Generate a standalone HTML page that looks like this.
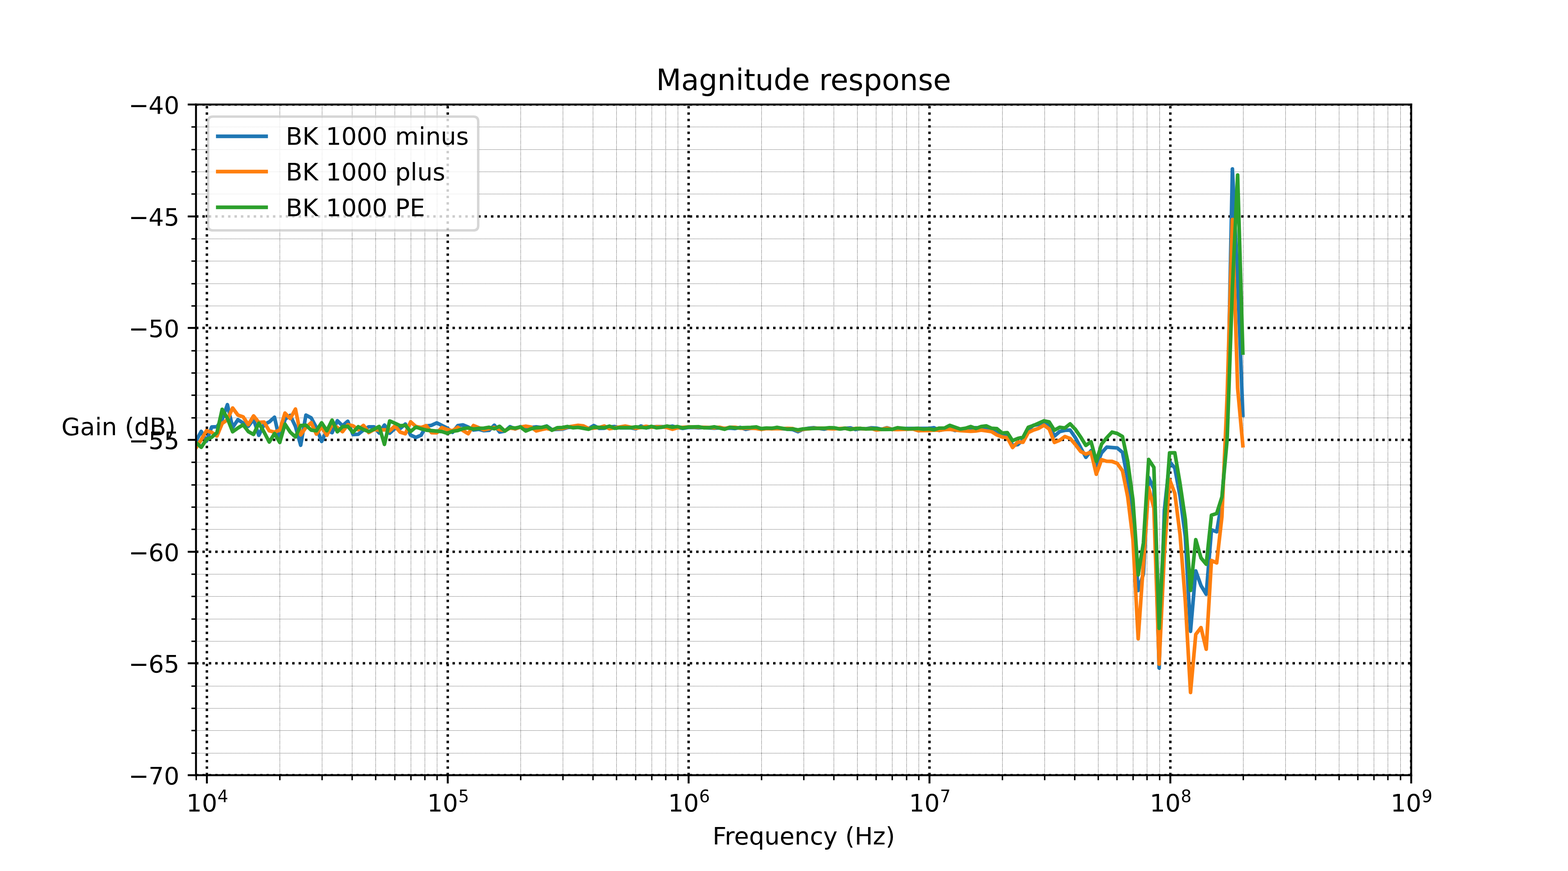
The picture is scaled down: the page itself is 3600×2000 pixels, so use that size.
<!DOCTYPE html>
<html lang="en">
<head>
<meta charset="utf-8">
<title>Magnitude response</title>
<style>
html, body { margin: 0; padding: 0; background: #ffffff; }
body { width: 3600px; height: 2000px; overflow: hidden; font-family: "DejaVu Sans", "Liberation Sans", sans-serif; }
svg { display: block; }
</style>
</head>
<body>
<svg width="3600" height="2000" viewBox="0 0 648 360">
<defs>
<style type="text/css">*{stroke-linejoin: round; stroke-linecap: butt}</style>
</defs>
<g id="figure_1">
<g id="patch_1">
<path d="M 0 360 L 648 360 L 648 0 L 0 0 z" style="fill: #ffffff" />
</g>
<g id="axes_1">
<g id="patch_2">
<path d="M 81 320.4 L 583.2 320.4 L 583.2 43.2 L 81 43.2 z" style="fill: #ffffff" />
</g>
<g id="matplotlib.axis_1">
<g id="xtick_1">
<g id="line2d_1">
<path d="M 85.5 320.4 L 85.5 43.2" clip-path="url(#p08fd92dc2a)" style="fill: none; stroke-dasharray: 1,1.65; stroke-dashoffset: 0; stroke: #000000" />
</g>
<g id="line2d_2">
<defs>
<path id="mc6e70fa9c4" d="M 0 0 L 0 3.42" style="stroke: #000000; stroke-width: 0.8" />
</defs>
<g>
<use x="85.5" y="320.4" style="stroke: #000000; stroke-width: 0.8" href="#mc6e70fa9c4" />
</g>
</g>
<g id="text_1">
<g transform="translate(77.0512 334.9984)">
<text>
<tspan x="0" y="0.3056" style="font-size: 10px; font-family: 'DejaVu Sans', sans-serif">1</tspan>
<tspan x="6.362305" y="0.3056" style="font-size: 10px; font-family: 'DejaVu Sans', sans-serif">0</tspan>
<tspan x="12.820312" y="-3.4024" style="font-size: 7px; font-family: 'DejaVu Sans', sans-serif">4</tspan>
</text>
</g>
</g>
</g>
<g id="xtick_2">
<g id="line2d_3">
<path d="M 185.04 320.4 L 185.04 43.2" clip-path="url(#p08fd92dc2a)" style="fill: none; stroke-dasharray: 1,1.65; stroke-dashoffset: 0; stroke: #000000" />
</g>
<g id="line2d_4">
<g>
<use x="185.04" y="320.4" style="stroke: #000000; stroke-width: 0.8" href="#mc6e70fa9c4" />
</g>
</g>
<g id="text_2">
<g transform="translate(176.5804 334.9984)">
<text>
<tspan x="0" y="0.3056" style="font-size: 10px; font-family: 'DejaVu Sans', sans-serif">1</tspan>
<tspan x="6.362305" y="0.3056" style="font-size: 10px; font-family: 'DejaVu Sans', sans-serif">0</tspan>
<tspan x="12.820312" y="-3.4024" style="font-size: 7px; font-family: 'DejaVu Sans', sans-serif">5</tspan>
</text>
</g>
</g>
</g>
<g id="xtick_3">
<g id="line2d_5">
<path d="M 284.58 320.4 L 284.58 43.2" clip-path="url(#p08fd92dc2a)" style="fill: none; stroke-dasharray: 1,1.65; stroke-dashoffset: 0; stroke: #000000" />
</g>
<g id="line2d_6">
<g>
<use x="284.58" y="320.4" style="stroke: #000000; stroke-width: 0.8" href="#mc6e70fa9c4" />
</g>
</g>
<g id="text_3">
<g transform="translate(276.1095 334.9984)">
<text>
<tspan x="0" y="0.3056" style="font-size: 10px; font-family: 'DejaVu Sans', sans-serif">1</tspan>
<tspan x="6.362305" y="0.3056" style="font-size: 10px; font-family: 'DejaVu Sans', sans-serif">0</tspan>
<tspan x="12.820312" y="-3.4024" style="font-size: 7px; font-family: 'DejaVu Sans', sans-serif">6</tspan>
</text>
</g>
</g>
</g>
<g id="xtick_4">
<g id="line2d_7">
<path d="M 384.12 320.4 L 384.12 43.2" clip-path="url(#p08fd92dc2a)" style="fill: none; stroke-dasharray: 1,1.65; stroke-dashoffset: 0; stroke: #000000" />
</g>
<g id="line2d_8">
<g>
<use x="384.12" y="320.4" style="stroke: #000000; stroke-width: 0.8" href="#mc6e70fa9c4" />
</g>
</g>
<g id="text_4">
<g transform="translate(375.6387 334.9984)">
<text>
<tspan x="0" y="0.3056" style="font-size: 10px; font-family: 'DejaVu Sans', sans-serif">1</tspan>
<tspan x="6.362305" y="0.3056" style="font-size: 10px; font-family: 'DejaVu Sans', sans-serif">0</tspan>
<tspan x="12.820312" y="-3.4024" style="font-size: 7px; font-family: 'DejaVu Sans', sans-serif">7</tspan>
</text>
</g>
</g>
</g>
<g id="xtick_5">
<g id="line2d_9">
<path d="M 483.66 320.4 L 483.66 43.2" clip-path="url(#p08fd92dc2a)" style="fill: none; stroke-dasharray: 1,1.65; stroke-dashoffset: 0; stroke: #000000" />
</g>
<g id="line2d_10">
<g>
<use x="483.66" y="320.4" style="stroke: #000000; stroke-width: 0.8" href="#mc6e70fa9c4" />
</g>
</g>
<g id="text_5">
<g transform="translate(475.1678 334.9984)">
<text>
<tspan x="0" y="0.3056" style="font-size: 10px; font-family: 'DejaVu Sans', sans-serif">1</tspan>
<tspan x="6.362305" y="0.3056" style="font-size: 10px; font-family: 'DejaVu Sans', sans-serif">0</tspan>
<tspan x="12.820312" y="-3.4024" style="font-size: 7px; font-family: 'DejaVu Sans', sans-serif">8</tspan>
</text>
</g>
</g>
</g>
<g id="xtick_6">
<g id="line2d_11">
<path d="M 583.2 320.4 L 583.2 43.2" clip-path="url(#p08fd92dc2a)" style="fill: none; stroke-dasharray: 1,1.65; stroke-dashoffset: 0; stroke: #000000" />
</g>
<g id="line2d_12">
<g>
<use x="583.2" y="320.4" style="stroke: #000000; stroke-width: 0.8" href="#mc6e70fa9c4" />
</g>
</g>
<g id="text_6">
<g transform="translate(574.697 334.9984)">
<text>
<tspan x="0" y="0.3056" style="font-size: 10px; font-family: 'DejaVu Sans', sans-serif">1</tspan>
<tspan x="6.362305" y="0.3056" style="font-size: 10px; font-family: 'DejaVu Sans', sans-serif">0</tspan>
<tspan x="12.820312" y="-3.4024" style="font-size: 7px; font-family: 'DejaVu Sans', sans-serif">9</tspan>
</text>
</g>
</g>
</g>
<g id="xtick_7">
<g id="line2d_13">
<path d="M 81.09 320.49 L 81.09 43.29" clip-path="url(#p08fd92dc2a)" style="fill: none; stroke-dasharray: 0.2,0.33; stroke-dashoffset: 0; stroke: #000000; stroke-width: 0.2" />
</g>
<g id="line2d_14">
<defs>
<path id="m18529bd13d" d="M 0.09 0.09 L 0.09 2.07" style="stroke: #000000; stroke-width: 0.6" />
</defs>
<g>
<use x="81" y="320.4" style="stroke: #000000; stroke-width: 0.6" href="#m18529bd13d" />
</g>
</g>
</g>
<g id="xtick_8">
<g id="line2d_15">
<path d="M 115.65 320.49 L 115.65 43.29" clip-path="url(#p08fd92dc2a)" style="fill: none; stroke-dasharray: 0.2,0.33; stroke-dashoffset: 0; stroke: #000000; stroke-width: 0.2" />
</g>
<g id="line2d_16">
<g>
<use x="115.56" y="320.4" style="stroke: #000000; stroke-width: 0.6" href="#m18529bd13d" />
</g>
</g>
</g>
<g id="xtick_9">
<g id="line2d_17">
<path d="M 133.11 320.49 L 133.11 43.29" clip-path="url(#p08fd92dc2a)" style="fill: none; stroke-dasharray: 0.2,0.33; stroke-dashoffset: 0; stroke: #000000; stroke-width: 0.2" />
</g>
<g id="line2d_18">
<g>
<use x="133.02" y="320.4" style="stroke: #000000; stroke-width: 0.6" href="#m18529bd13d" />
</g>
</g>
</g>
<g id="xtick_10">
<g id="line2d_19">
<path d="M 145.53 320.49 L 145.53 43.29" clip-path="url(#p08fd92dc2a)" style="fill: none; stroke-dasharray: 0.2,0.33; stroke-dashoffset: 0; stroke: #000000; stroke-width: 0.2" />
</g>
<g id="line2d_20">
<g>
<use x="145.44" y="320.4" style="stroke: #000000; stroke-width: 0.6" href="#m18529bd13d" />
</g>
</g>
</g>
<g id="xtick_11">
<g id="line2d_21">
<path d="M 155.25 320.49 L 155.25 43.29" clip-path="url(#p08fd92dc2a)" style="fill: none; stroke-dasharray: 0.2,0.33; stroke-dashoffset: 0; stroke: #000000; stroke-width: 0.2" />
</g>
<g id="line2d_22">
<g>
<use x="155.16" y="320.4" style="stroke: #000000; stroke-width: 0.6" href="#m18529bd13d" />
</g>
</g>
</g>
<g id="xtick_12">
<g id="line2d_23">
<path d="M 163.17 320.49 L 163.17 43.29" clip-path="url(#p08fd92dc2a)" style="fill: none; stroke-dasharray: 0.2,0.33; stroke-dashoffset: 0; stroke: #000000; stroke-width: 0.2" />
</g>
<g id="line2d_24">
<g>
<use x="163.08" y="320.4" style="stroke: #000000; stroke-width: 0.6" href="#m18529bd13d" />
</g>
</g>
</g>
<g id="xtick_13">
<g id="line2d_25">
<path d="M 169.83 320.49 L 169.83 43.29" clip-path="url(#p08fd92dc2a)" style="fill: none; stroke-dasharray: 0.2,0.33; stroke-dashoffset: 0; stroke: #000000; stroke-width: 0.2" />
</g>
<g id="line2d_26">
<g>
<use x="169.74" y="320.4" style="stroke: #000000; stroke-width: 0.6" href="#m18529bd13d" />
</g>
</g>
</g>
<g id="xtick_14">
<g id="line2d_27">
<path d="M 175.59 320.49 L 175.59 43.29" clip-path="url(#p08fd92dc2a)" style="fill: none; stroke-dasharray: 0.2,0.33; stroke-dashoffset: 0; stroke: #000000; stroke-width: 0.2" />
</g>
<g id="line2d_28">
<g>
<use x="175.5" y="320.4" style="stroke: #000000; stroke-width: 0.6" href="#m18529bd13d" />
</g>
</g>
</g>
<g id="xtick_15">
<g id="line2d_29">
<path d="M 180.63 320.49 L 180.63 43.29" clip-path="url(#p08fd92dc2a)" style="fill: none; stroke-dasharray: 0.2,0.33; stroke-dashoffset: 0; stroke: #000000; stroke-width: 0.2" />
</g>
<g id="line2d_30">
<g>
<use x="180.54" y="320.4" style="stroke: #000000; stroke-width: 0.6" href="#m18529bd13d" />
</g>
</g>
</g>
<g id="xtick_16">
<g id="line2d_31">
<path d="M 215.19 320.49 L 215.19 43.29" clip-path="url(#p08fd92dc2a)" style="fill: none; stroke-dasharray: 0.2,0.33; stroke-dashoffset: 0; stroke: #000000; stroke-width: 0.2" />
</g>
<g id="line2d_32">
<g>
<use x="215.1" y="320.4" style="stroke: #000000; stroke-width: 0.6" href="#m18529bd13d" />
</g>
</g>
</g>
<g id="xtick_17">
<g id="line2d_33">
<path d="M 232.65 320.49 L 232.65 43.29" clip-path="url(#p08fd92dc2a)" style="fill: none; stroke-dasharray: 0.2,0.33; stroke-dashoffset: 0; stroke: #000000; stroke-width: 0.2" />
</g>
<g id="line2d_34">
<g>
<use x="232.56" y="320.4" style="stroke: #000000; stroke-width: 0.6" href="#m18529bd13d" />
</g>
</g>
</g>
<g id="xtick_18">
<g id="line2d_35">
<path d="M 245.07 320.49 L 245.07 43.29" clip-path="url(#p08fd92dc2a)" style="fill: none; stroke-dasharray: 0.2,0.33; stroke-dashoffset: 0; stroke: #000000; stroke-width: 0.2" />
</g>
<g id="line2d_36">
<g>
<use x="244.98" y="320.4" style="stroke: #000000; stroke-width: 0.6" href="#m18529bd13d" />
</g>
</g>
</g>
<g id="xtick_19">
<g id="line2d_37">
<path d="M 254.79 320.49 L 254.79 43.29" clip-path="url(#p08fd92dc2a)" style="fill: none; stroke-dasharray: 0.2,0.33; stroke-dashoffset: 0; stroke: #000000; stroke-width: 0.2" />
</g>
<g id="line2d_38">
<g>
<use x="254.7" y="320.4" style="stroke: #000000; stroke-width: 0.6" href="#m18529bd13d" />
</g>
</g>
</g>
<g id="xtick_20">
<g id="line2d_39">
<path d="M 262.71 320.49 L 262.71 43.29" clip-path="url(#p08fd92dc2a)" style="fill: none; stroke-dasharray: 0.2,0.33; stroke-dashoffset: 0; stroke: #000000; stroke-width: 0.2" />
</g>
<g id="line2d_40">
<g>
<use x="262.62" y="320.4" style="stroke: #000000; stroke-width: 0.6" href="#m18529bd13d" />
</g>
</g>
</g>
<g id="xtick_21">
<g id="line2d_41">
<path d="M 269.37 320.49 L 269.37 43.29" clip-path="url(#p08fd92dc2a)" style="fill: none; stroke-dasharray: 0.2,0.33; stroke-dashoffset: 0; stroke: #000000; stroke-width: 0.2" />
</g>
<g id="line2d_42">
<g>
<use x="269.28" y="320.4" style="stroke: #000000; stroke-width: 0.6" href="#m18529bd13d" />
</g>
</g>
</g>
<g id="xtick_22">
<g id="line2d_43">
<path d="M 275.13 320.49 L 275.13 43.29" clip-path="url(#p08fd92dc2a)" style="fill: none; stroke-dasharray: 0.2,0.33; stroke-dashoffset: 0; stroke: #000000; stroke-width: 0.2" />
</g>
<g id="line2d_44">
<g>
<use x="275.04" y="320.4" style="stroke: #000000; stroke-width: 0.6" href="#m18529bd13d" />
</g>
</g>
</g>
<g id="xtick_23">
<g id="line2d_45">
<path d="M 280.17 320.49 L 280.17 43.29" clip-path="url(#p08fd92dc2a)" style="fill: none; stroke-dasharray: 0.2,0.33; stroke-dashoffset: 0; stroke: #000000; stroke-width: 0.2" />
</g>
<g id="line2d_46">
<g>
<use x="280.08" y="320.4" style="stroke: #000000; stroke-width: 0.6" href="#m18529bd13d" />
</g>
</g>
</g>
<g id="xtick_24">
<g id="line2d_47">
<path d="M 314.73 320.49 L 314.73 43.29" clip-path="url(#p08fd92dc2a)" style="fill: none; stroke-dasharray: 0.2,0.33; stroke-dashoffset: 0; stroke: #000000; stroke-width: 0.2" />
</g>
<g id="line2d_48">
<g>
<use x="314.64" y="320.4" style="stroke: #000000; stroke-width: 0.6" href="#m18529bd13d" />
</g>
</g>
</g>
<g id="xtick_25">
<g id="line2d_49">
<path d="M 332.19 320.49 L 332.19 43.29" clip-path="url(#p08fd92dc2a)" style="fill: none; stroke-dasharray: 0.2,0.33; stroke-dashoffset: 0; stroke: #000000; stroke-width: 0.2" />
</g>
<g id="line2d_50">
<g>
<use x="332.1" y="320.4" style="stroke: #000000; stroke-width: 0.6" href="#m18529bd13d" />
</g>
</g>
</g>
<g id="xtick_26">
<g id="line2d_51">
<path d="M 344.61 320.49 L 344.61 43.29" clip-path="url(#p08fd92dc2a)" style="fill: none; stroke-dasharray: 0.2,0.33; stroke-dashoffset: 0; stroke: #000000; stroke-width: 0.2" />
</g>
<g id="line2d_52">
<g>
<use x="344.52" y="320.4" style="stroke: #000000; stroke-width: 0.6" href="#m18529bd13d" />
</g>
</g>
</g>
<g id="xtick_27">
<g id="line2d_53">
<path d="M 354.33 320.49 L 354.33 43.29" clip-path="url(#p08fd92dc2a)" style="fill: none; stroke-dasharray: 0.2,0.33; stroke-dashoffset: 0; stroke: #000000; stroke-width: 0.2" />
</g>
<g id="line2d_54">
<g>
<use x="354.24" y="320.4" style="stroke: #000000; stroke-width: 0.6" href="#m18529bd13d" />
</g>
</g>
</g>
<g id="xtick_28">
<g id="line2d_55">
<path d="M 362.07 320.49 L 362.07 43.29" clip-path="url(#p08fd92dc2a)" style="fill: none; stroke-dasharray: 0.2,0.33; stroke-dashoffset: 0; stroke: #000000; stroke-width: 0.2" />
</g>
<g id="line2d_56">
<g>
<use x="361.98" y="320.4" style="stroke: #000000; stroke-width: 0.6" href="#m18529bd13d" />
</g>
</g>
</g>
<g id="xtick_29">
<g id="line2d_57">
<path d="M 368.73 320.49 L 368.73 43.29" clip-path="url(#p08fd92dc2a)" style="fill: none; stroke-dasharray: 0.2,0.33; stroke-dashoffset: 0; stroke: #000000; stroke-width: 0.2" />
</g>
<g id="line2d_58">
<g>
<use x="368.64" y="320.4" style="stroke: #000000; stroke-width: 0.6" href="#m18529bd13d" />
</g>
</g>
</g>
<g id="xtick_30">
<g id="line2d_59">
<path d="M 374.67 320.49 L 374.67 43.29" clip-path="url(#p08fd92dc2a)" style="fill: none; stroke-dasharray: 0.2,0.33; stroke-dashoffset: 0; stroke: #000000; stroke-width: 0.2" />
</g>
<g id="line2d_60">
<g>
<use x="374.58" y="320.4" style="stroke: #000000; stroke-width: 0.6" href="#m18529bd13d" />
</g>
</g>
</g>
<g id="xtick_31">
<g id="line2d_61">
<path d="M 379.71 320.49 L 379.71 43.29" clip-path="url(#p08fd92dc2a)" style="fill: none; stroke-dasharray: 0.2,0.33; stroke-dashoffset: 0; stroke: #000000; stroke-width: 0.2" />
</g>
<g id="line2d_62">
<g>
<use x="379.62" y="320.4" style="stroke: #000000; stroke-width: 0.6" href="#m18529bd13d" />
</g>
</g>
</g>
<g id="xtick_32">
<g id="line2d_63">
<path d="M 414.27 320.49 L 414.27 43.29" clip-path="url(#p08fd92dc2a)" style="fill: none; stroke-dasharray: 0.2,0.33; stroke-dashoffset: 0; stroke: #000000; stroke-width: 0.2" />
</g>
<g id="line2d_64">
<g>
<use x="414.18" y="320.4" style="stroke: #000000; stroke-width: 0.6" href="#m18529bd13d" />
</g>
</g>
</g>
<g id="xtick_33">
<g id="line2d_65">
<path d="M 431.73 320.49 L 431.73 43.29" clip-path="url(#p08fd92dc2a)" style="fill: none; stroke-dasharray: 0.2,0.33; stroke-dashoffset: 0; stroke: #000000; stroke-width: 0.2" />
</g>
<g id="line2d_66">
<g>
<use x="431.64" y="320.4" style="stroke: #000000; stroke-width: 0.6" href="#m18529bd13d" />
</g>
</g>
</g>
<g id="xtick_34">
<g id="line2d_67">
<path d="M 444.15 320.49 L 444.15 43.29" clip-path="url(#p08fd92dc2a)" style="fill: none; stroke-dasharray: 0.2,0.33; stroke-dashoffset: 0; stroke: #000000; stroke-width: 0.2" />
</g>
<g id="line2d_68">
<g>
<use x="444.06" y="320.4" style="stroke: #000000; stroke-width: 0.6" href="#m18529bd13d" />
</g>
</g>
</g>
<g id="xtick_35">
<g id="line2d_69">
<path d="M 453.87 320.49 L 453.87 43.29" clip-path="url(#p08fd92dc2a)" style="fill: none; stroke-dasharray: 0.2,0.33; stroke-dashoffset: 0; stroke: #000000; stroke-width: 0.2" />
</g>
<g id="line2d_70">
<g>
<use x="453.78" y="320.4" style="stroke: #000000; stroke-width: 0.6" href="#m18529bd13d" />
</g>
</g>
</g>
<g id="xtick_36">
<g id="line2d_71">
<path d="M 461.61 320.49 L 461.61 43.29" clip-path="url(#p08fd92dc2a)" style="fill: none; stroke-dasharray: 0.2,0.33; stroke-dashoffset: 0; stroke: #000000; stroke-width: 0.2" />
</g>
<g id="line2d_72">
<g>
<use x="461.52" y="320.4" style="stroke: #000000; stroke-width: 0.6" href="#m18529bd13d" />
</g>
</g>
</g>
<g id="xtick_37">
<g id="line2d_73">
<path d="M 468.27 320.49 L 468.27 43.29" clip-path="url(#p08fd92dc2a)" style="fill: none; stroke-dasharray: 0.2,0.33; stroke-dashoffset: 0; stroke: #000000; stroke-width: 0.2" />
</g>
<g id="line2d_74">
<g>
<use x="468.18" y="320.4" style="stroke: #000000; stroke-width: 0.6" href="#m18529bd13d" />
</g>
</g>
</g>
<g id="xtick_38">
<g id="line2d_75">
<path d="M 474.03 320.49 L 474.03 43.29" clip-path="url(#p08fd92dc2a)" style="fill: none; stroke-dasharray: 0.2,0.33; stroke-dashoffset: 0; stroke: #000000; stroke-width: 0.2" />
</g>
<g id="line2d_76">
<g>
<use x="473.94" y="320.4" style="stroke: #000000; stroke-width: 0.6" href="#m18529bd13d" />
</g>
</g>
</g>
<g id="xtick_39">
<g id="line2d_77">
<path d="M 479.25 320.49 L 479.25 43.29" clip-path="url(#p08fd92dc2a)" style="fill: none; stroke-dasharray: 0.2,0.33; stroke-dashoffset: 0; stroke: #000000; stroke-width: 0.2" />
</g>
<g id="line2d_78">
<g>
<use x="479.16" y="320.4" style="stroke: #000000; stroke-width: 0.6" href="#m18529bd13d" />
</g>
</g>
</g>
<g id="xtick_40">
<g id="line2d_79">
<path d="M 513.81 320.49 L 513.81 43.29" clip-path="url(#p08fd92dc2a)" style="fill: none; stroke-dasharray: 0.2,0.33; stroke-dashoffset: 0; stroke: #000000; stroke-width: 0.2" />
</g>
<g id="line2d_80">
<g>
<use x="513.72" y="320.4" style="stroke: #000000; stroke-width: 0.6" href="#m18529bd13d" />
</g>
</g>
</g>
<g id="xtick_41">
<g id="line2d_81">
<path d="M 531.27 320.49 L 531.27 43.29" clip-path="url(#p08fd92dc2a)" style="fill: none; stroke-dasharray: 0.2,0.33; stroke-dashoffset: 0; stroke: #000000; stroke-width: 0.2" />
</g>
<g id="line2d_82">
<g>
<use x="531.18" y="320.4" style="stroke: #000000; stroke-width: 0.6" href="#m18529bd13d" />
</g>
</g>
</g>
<g id="xtick_42">
<g id="line2d_83">
<path d="M 543.69 320.49 L 543.69 43.29" clip-path="url(#p08fd92dc2a)" style="fill: none; stroke-dasharray: 0.2,0.33; stroke-dashoffset: 0; stroke: #000000; stroke-width: 0.2" />
</g>
<g id="line2d_84">
<g>
<use x="543.6" y="320.4" style="stroke: #000000; stroke-width: 0.6" href="#m18529bd13d" />
</g>
</g>
</g>
<g id="xtick_43">
<g id="line2d_85">
<path d="M 553.41 320.49 L 553.41 43.29" clip-path="url(#p08fd92dc2a)" style="fill: none; stroke-dasharray: 0.2,0.33; stroke-dashoffset: 0; stroke: #000000; stroke-width: 0.2" />
</g>
<g id="line2d_86">
<g>
<use x="553.32" y="320.4" style="stroke: #000000; stroke-width: 0.6" href="#m18529bd13d" />
</g>
</g>
</g>
<g id="xtick_44">
<g id="line2d_87">
<path d="M 561.15 320.49 L 561.15 43.29" clip-path="url(#p08fd92dc2a)" style="fill: none; stroke-dasharray: 0.2,0.33; stroke-dashoffset: 0; stroke: #000000; stroke-width: 0.2" />
</g>
<g id="line2d_88">
<g>
<use x="561.06" y="320.4" style="stroke: #000000; stroke-width: 0.6" href="#m18529bd13d" />
</g>
</g>
</g>
<g id="xtick_45">
<g id="line2d_89">
<path d="M 567.81 320.49 L 567.81 43.29" clip-path="url(#p08fd92dc2a)" style="fill: none; stroke-dasharray: 0.2,0.33; stroke-dashoffset: 0; stroke: #000000; stroke-width: 0.2" />
</g>
<g id="line2d_90">
<g>
<use x="567.72" y="320.4" style="stroke: #000000; stroke-width: 0.6" href="#m18529bd13d" />
</g>
</g>
</g>
<g id="xtick_46">
<g id="line2d_91">
<path d="M 573.57 320.49 L 573.57 43.29" clip-path="url(#p08fd92dc2a)" style="fill: none; stroke-dasharray: 0.2,0.33; stroke-dashoffset: 0; stroke: #000000; stroke-width: 0.2" />
</g>
<g id="line2d_92">
<g>
<use x="573.48" y="320.4" style="stroke: #000000; stroke-width: 0.6" href="#m18529bd13d" />
</g>
</g>
</g>
<g id="xtick_47">
<g id="line2d_93">
<path d="M 578.79 320.49 L 578.79 43.29" clip-path="url(#p08fd92dc2a)" style="fill: none; stroke-dasharray: 0.2,0.33; stroke-dashoffset: 0; stroke: #000000; stroke-width: 0.2" />
</g>
<g id="line2d_94">
<g>
<use x="578.7" y="320.4" style="stroke: #000000; stroke-width: 0.6" href="#m18529bd13d" />
</g>
</g>
</g>
<g id="text_7">
<text style="font-size: 10px; font-family: 'DejaVu Sans', sans-serif; text-anchor: middle" x="332.172" y="349.0366">Frequency (Hz)</text>
</g>
</g>
<g id="matplotlib.axis_2">
<g id="ytick_1">
<g id="line2d_95">
<path d="M 81 320.4 L 583.2 320.4" clip-path="url(#p08fd92dc2a)" style="fill: none; stroke-dasharray: 1,1.65; stroke-dashoffset: 0; stroke: #000000" />
</g>
<g id="line2d_96">
<defs>
<path id="m7bf6e5ff42" d="M 0 0 L -3.42 0" style="stroke: #000000; stroke-width: 0.8" />
</defs>
<g>
<use x="81" y="320.4" style="stroke: #000000; stroke-width: 0.8" href="#m7bf6e5ff42" />
</g>
</g>
<g id="text_8">
<text style="font-size: 10px; font-family: 'DejaVu Sans', sans-serif; text-anchor: end" x="74.126" y="324.1992"><tspan>−</tspan><tspan dx="-0.126">70</tspan></text>
</g>
</g>
<g id="ytick_2">
<g id="line2d_97">
<path d="M 81 274.14 L 583.2 274.14" clip-path="url(#p08fd92dc2a)" style="fill: none; stroke-dasharray: 1,1.65; stroke-dashoffset: 0; stroke: #000000" />
</g>
<g id="line2d_98">
<g>
<use x="81" y="274.14" style="stroke: #000000; stroke-width: 0.8" href="#m7bf6e5ff42" />
</g>
</g>
<g id="text_9">
<text style="font-size: 10px; font-family: 'DejaVu Sans', sans-serif; text-anchor: end" x="74.126" y="277.9992"><tspan>−</tspan><tspan dx="-0.126">65</tspan></text>
</g>
</g>
<g id="ytick_3">
<g id="line2d_99">
<path d="M 81 228.06 L 583.2 228.06" clip-path="url(#p08fd92dc2a)" style="fill: none; stroke-dasharray: 1,1.65; stroke-dashoffset: 0; stroke: #000000" />
</g>
<g id="line2d_100">
<g>
<use x="81" y="228.06" style="stroke: #000000; stroke-width: 0.8" href="#m7bf6e5ff42" />
</g>
</g>
<g id="text_10">
<text style="font-size: 10px; font-family: 'DejaVu Sans', sans-serif; text-anchor: end" x="74.126" y="231.7992"><tspan>−</tspan><tspan dx="-0.126">60</tspan></text>
</g>
</g>
<g id="ytick_4">
<g id="line2d_101">
<path d="M 81 181.8 L 583.2 181.8" clip-path="url(#p08fd92dc2a)" style="fill: none; stroke-dasharray: 1,1.65; stroke-dashoffset: 0; stroke: #000000" />
</g>
<g id="line2d_102">
<g>
<use x="81" y="181.8" style="stroke: #000000; stroke-width: 0.8" href="#m7bf6e5ff42" />
</g>
</g>
<g id="text_11">
<text style="font-size: 10px; font-family: 'DejaVu Sans', sans-serif; text-anchor: end" x="74.126" y="185.5992"><tspan>−</tspan><tspan dx="-0.126">55</tspan></text>
</g>
</g>
<g id="ytick_5">
<g id="line2d_103">
<path d="M 81 135.54 L 583.2 135.54" clip-path="url(#p08fd92dc2a)" style="fill: none; stroke-dasharray: 1,1.65; stroke-dashoffset: 0; stroke: #000000" />
</g>
<g id="line2d_104">
<g>
<use x="81" y="135.54" style="stroke: #000000; stroke-width: 0.8" href="#m7bf6e5ff42" />
</g>
</g>
<g id="text_12">
<text style="font-size: 10px; font-family: 'DejaVu Sans', sans-serif; text-anchor: end" x="74.126" y="139.3992"><tspan>−</tspan><tspan dx="-0.126">50</tspan></text>
</g>
</g>
<g id="ytick_6">
<g id="line2d_105">
<path d="M 81 89.46 L 583.2 89.46" clip-path="url(#p08fd92dc2a)" style="fill: none; stroke-dasharray: 1,1.65; stroke-dashoffset: 0; stroke: #000000" />
</g>
<g id="line2d_106">
<g>
<use x="81" y="89.46" style="stroke: #000000; stroke-width: 0.8" href="#m7bf6e5ff42" />
</g>
</g>
<g id="text_13">
<text style="font-size: 10px; font-family: 'DejaVu Sans', sans-serif; text-anchor: end" x="74.126" y="93.1992"><tspan>−</tspan><tspan dx="-0.126">45</tspan></text>
</g>
</g>
<g id="ytick_7">
<g id="line2d_107">
<path d="M 81 43.2 L 583.2 43.2" clip-path="url(#p08fd92dc2a)" style="fill: none; stroke-dasharray: 1,1.65; stroke-dashoffset: 0; stroke: #000000" />
</g>
<g id="line2d_108">
<g>
<use x="81" y="43.2" style="stroke: #000000; stroke-width: 0.8" href="#m7bf6e5ff42" />
</g>
</g>
<g id="text_14">
<text style="font-size: 10px; font-family: 'DejaVu Sans', sans-serif; text-anchor: end" x="74.126" y="46.9992"><tspan>−</tspan><tspan dx="-0.126">40</tspan></text>
</g>
</g>
<g id="ytick_8">
<g id="line2d_109">
<path d="M 81.09 311.31 L 583.29 311.31" clip-path="url(#p08fd92dc2a)" style="fill: none; stroke-dasharray: 0.2,0.33; stroke-dashoffset: 0; stroke: #000000; stroke-width: 0.2" />
</g>
<g id="line2d_110">
<defs>
<path id="m70806611a2" d="M 0.09 0.09 L -1.89 0.09" style="stroke: #000000; stroke-width: 0.6" />
</defs>
<g>
<use x="81" y="311.22" style="stroke: #000000; stroke-width: 0.6" href="#m70806611a2" />
</g>
</g>
</g>
<g id="ytick_9">
<g id="line2d_111">
<path d="M 81.09 301.95 L 583.29 301.95" clip-path="url(#p08fd92dc2a)" style="fill: none; stroke-dasharray: 0.2,0.33; stroke-dashoffset: 0; stroke: #000000; stroke-width: 0.2" />
</g>
<g id="line2d_112">
<g>
<use x="81" y="301.86" style="stroke: #000000; stroke-width: 0.6" href="#m70806611a2" />
</g>
</g>
</g>
<g id="ytick_10">
<g id="line2d_113">
<path d="M 81.09 292.77 L 583.29 292.77" clip-path="url(#p08fd92dc2a)" style="fill: none; stroke-dasharray: 0.2,0.33; stroke-dashoffset: 0; stroke: #000000; stroke-width: 0.2" />
</g>
<g id="line2d_114">
<g>
<use x="81" y="292.68" style="stroke: #000000; stroke-width: 0.6" href="#m70806611a2" />
</g>
</g>
</g>
<g id="ytick_11">
<g id="line2d_115">
<path d="M 81.09 283.59 L 583.29 283.59" clip-path="url(#p08fd92dc2a)" style="fill: none; stroke-dasharray: 0.2,0.33; stroke-dashoffset: 0; stroke: #000000; stroke-width: 0.2" />
</g>
<g id="line2d_116">
<g>
<use x="81" y="283.5" style="stroke: #000000; stroke-width: 0.6" href="#m70806611a2" />
</g>
</g>
</g>
<g id="ytick_12">
<g id="line2d_117">
<path d="M 81.09 265.05 L 583.29 265.05" clip-path="url(#p08fd92dc2a)" style="fill: none; stroke-dasharray: 0.2,0.33; stroke-dashoffset: 0; stroke: #000000; stroke-width: 0.2" />
</g>
<g id="line2d_118">
<g>
<use x="81" y="264.96" style="stroke: #000000; stroke-width: 0.6" href="#m70806611a2" />
</g>
</g>
</g>
<g id="ytick_13">
<g id="line2d_119">
<path d="M 81.09 255.87 L 583.29 255.87" clip-path="url(#p08fd92dc2a)" style="fill: none; stroke-dasharray: 0.2,0.33; stroke-dashoffset: 0; stroke: #000000; stroke-width: 0.2" />
</g>
<g id="line2d_120">
<g>
<use x="81" y="255.78" style="stroke: #000000; stroke-width: 0.6" href="#m70806611a2" />
</g>
</g>
</g>
<g id="ytick_14">
<g id="line2d_121">
<path d="M 81.09 246.51 L 583.29 246.51" clip-path="url(#p08fd92dc2a)" style="fill: none; stroke-dasharray: 0.2,0.33; stroke-dashoffset: 0; stroke: #000000; stroke-width: 0.2" />
</g>
<g id="line2d_122">
<g>
<use x="81" y="246.42" style="stroke: #000000; stroke-width: 0.6" href="#m70806611a2" />
</g>
</g>
</g>
<g id="ytick_15">
<g id="line2d_123">
<path d="M 81.09 237.33 L 583.29 237.33" clip-path="url(#p08fd92dc2a)" style="fill: none; stroke-dasharray: 0.2,0.33; stroke-dashoffset: 0; stroke: #000000; stroke-width: 0.2" />
</g>
<g id="line2d_124">
<g>
<use x="81" y="237.24" style="stroke: #000000; stroke-width: 0.6" href="#m70806611a2" />
</g>
</g>
</g>
<g id="ytick_16">
<g id="line2d_125">
<path d="M 81.09 218.79 L 583.29 218.79" clip-path="url(#p08fd92dc2a)" style="fill: none; stroke-dasharray: 0.2,0.33; stroke-dashoffset: 0; stroke: #000000; stroke-width: 0.2" />
</g>
<g id="line2d_126">
<g>
<use x="81" y="218.7" style="stroke: #000000; stroke-width: 0.6" href="#m70806611a2" />
</g>
</g>
</g>
<g id="ytick_17">
<g id="line2d_127">
<path d="M 81.09 209.61 L 583.29 209.61" clip-path="url(#p08fd92dc2a)" style="fill: none; stroke-dasharray: 0.2,0.33; stroke-dashoffset: 0; stroke: #000000; stroke-width: 0.2" />
</g>
<g id="line2d_128">
<g>
<use x="81" y="209.52" style="stroke: #000000; stroke-width: 0.6" href="#m70806611a2" />
</g>
</g>
</g>
<g id="ytick_18">
<g id="line2d_129">
<path d="M 81.09 200.43 L 583.29 200.43" clip-path="url(#p08fd92dc2a)" style="fill: none; stroke-dasharray: 0.2,0.33; stroke-dashoffset: 0; stroke: #000000; stroke-width: 0.2" />
</g>
<g id="line2d_130">
<g>
<use x="81" y="200.34" style="stroke: #000000; stroke-width: 0.6" href="#m70806611a2" />
</g>
</g>
</g>
<g id="ytick_19">
<g id="line2d_131">
<path d="M 81.09 191.07 L 583.29 191.07" clip-path="url(#p08fd92dc2a)" style="fill: none; stroke-dasharray: 0.2,0.33; stroke-dashoffset: 0; stroke: #000000; stroke-width: 0.2" />
</g>
<g id="line2d_132">
<g>
<use x="81" y="190.98" style="stroke: #000000; stroke-width: 0.6" href="#m70806611a2" />
</g>
</g>
</g>
<g id="ytick_20">
<g id="line2d_133">
<path d="M 81.09 172.71 L 583.29 172.71" clip-path="url(#p08fd92dc2a)" style="fill: none; stroke-dasharray: 0.2,0.33; stroke-dashoffset: 0; stroke: #000000; stroke-width: 0.2" />
</g>
<g id="line2d_134">
<g>
<use x="81" y="172.62" style="stroke: #000000; stroke-width: 0.6" href="#m70806611a2" />
</g>
</g>
</g>
<g id="ytick_21">
<g id="line2d_135">
<path d="M 81.09 163.35 L 583.29 163.35" clip-path="url(#p08fd92dc2a)" style="fill: none; stroke-dasharray: 0.2,0.33; stroke-dashoffset: 0; stroke: #000000; stroke-width: 0.2" />
</g>
<g id="line2d_136">
<g>
<use x="81" y="163.26" style="stroke: #000000; stroke-width: 0.6" href="#m70806611a2" />
</g>
</g>
</g>
<g id="ytick_22">
<g id="line2d_137">
<path d="M 81.09 154.17 L 583.29 154.17" clip-path="url(#p08fd92dc2a)" style="fill: none; stroke-dasharray: 0.2,0.33; stroke-dashoffset: 0; stroke: #000000; stroke-width: 0.2" />
</g>
<g id="line2d_138">
<g>
<use x="81" y="154.08" style="stroke: #000000; stroke-width: 0.6" href="#m70806611a2" />
</g>
</g>
</g>
<g id="ytick_23">
<g id="line2d_139">
<path d="M 81.09 144.99 L 583.29 144.99" clip-path="url(#p08fd92dc2a)" style="fill: none; stroke-dasharray: 0.2,0.33; stroke-dashoffset: 0; stroke: #000000; stroke-width: 0.2" />
</g>
<g id="line2d_140">
<g>
<use x="81" y="144.9" style="stroke: #000000; stroke-width: 0.6" href="#m70806611a2" />
</g>
</g>
</g>
<g id="ytick_24">
<g id="line2d_141">
<path d="M 81.09 126.45 L 583.29 126.45" clip-path="url(#p08fd92dc2a)" style="fill: none; stroke-dasharray: 0.2,0.33; stroke-dashoffset: 0; stroke: #000000; stroke-width: 0.2" />
</g>
<g id="line2d_142">
<g>
<use x="81" y="126.36" style="stroke: #000000; stroke-width: 0.6" href="#m70806611a2" />
</g>
</g>
</g>
<g id="ytick_25">
<g id="line2d_143">
<path d="M 81.09 117.27 L 583.29 117.27" clip-path="url(#p08fd92dc2a)" style="fill: none; stroke-dasharray: 0.2,0.33; stroke-dashoffset: 0; stroke: #000000; stroke-width: 0.2" />
</g>
<g id="line2d_144">
<g>
<use x="81" y="117.18" style="stroke: #000000; stroke-width: 0.6" href="#m70806611a2" />
</g>
</g>
</g>
<g id="ytick_26">
<g id="line2d_145">
<path d="M 81.09 107.91 L 583.29 107.91" clip-path="url(#p08fd92dc2a)" style="fill: none; stroke-dasharray: 0.2,0.33; stroke-dashoffset: 0; stroke: #000000; stroke-width: 0.2" />
</g>
<g id="line2d_146">
<g>
<use x="81" y="107.82" style="stroke: #000000; stroke-width: 0.6" href="#m70806611a2" />
</g>
</g>
</g>
<g id="ytick_27">
<g id="line2d_147">
<path d="M 81.09 98.73 L 583.29 98.73" clip-path="url(#p08fd92dc2a)" style="fill: none; stroke-dasharray: 0.2,0.33; stroke-dashoffset: 0; stroke: #000000; stroke-width: 0.2" />
</g>
<g id="line2d_148">
<g>
<use x="81" y="98.64" style="stroke: #000000; stroke-width: 0.6" href="#m70806611a2" />
</g>
</g>
</g>
<g id="ytick_28">
<g id="line2d_149">
<path d="M 81.09 80.19 L 583.29 80.19" clip-path="url(#p08fd92dc2a)" style="fill: none; stroke-dasharray: 0.2,0.33; stroke-dashoffset: 0; stroke: #000000; stroke-width: 0.2" />
</g>
<g id="line2d_150">
<g>
<use x="81" y="80.1" style="stroke: #000000; stroke-width: 0.6" href="#m70806611a2" />
</g>
</g>
</g>
<g id="ytick_29">
<g id="line2d_151">
<path d="M 81.09 71.01 L 583.29 71.01" clip-path="url(#p08fd92dc2a)" style="fill: none; stroke-dasharray: 0.2,0.33; stroke-dashoffset: 0; stroke: #000000; stroke-width: 0.2" />
</g>
<g id="line2d_152">
<g>
<use x="81" y="70.92" style="stroke: #000000; stroke-width: 0.6" href="#m70806611a2" />
</g>
</g>
</g>
<g id="ytick_30">
<g id="line2d_153">
<path d="M 81.09 61.83 L 583.29 61.83" clip-path="url(#p08fd92dc2a)" style="fill: none; stroke-dasharray: 0.2,0.33; stroke-dashoffset: 0; stroke: #000000; stroke-width: 0.2" />
</g>
<g id="line2d_154">
<g>
<use x="81" y="61.74" style="stroke: #000000; stroke-width: 0.6" href="#m70806611a2" />
</g>
</g>
</g>
<g id="ytick_31">
<g id="line2d_155">
<path d="M 81.09 52.47 L 583.29 52.47" clip-path="url(#p08fd92dc2a)" style="fill: none; stroke-dasharray: 0.2,0.33; stroke-dashoffset: 0; stroke: #000000; stroke-width: 0.2" />
</g>
<g id="line2d_156">
<g>
<use x="81" y="52.38" style="stroke: #000000; stroke-width: 0.6" href="#m70806611a2" />
</g>
</g>
</g>
<g id="text_15">
<text style="font-size: 10px; font-family: 'DejaVu Sans', sans-serif; text-anchor: middle" x="48.9853" y="179.9003">Gain (dB)</text>
</g>
</g>
<g id="line2d_157">
<path d="M 81 182.286 L 83.1632 178.2987 L 85.3263 182.3524 L 87.4895 176.4924 L 89.6526 176.3874 L 91.8158 173.3419 L 93.979 167.2299 L 96.1421 176.7024 L 98.3053 173.4679 L 102.6316 176.1564 L 104.7948 173.3419 L 106.9579 179.937 L 109.1211 175.4422 L 111.2842 174.3921 L 113.4474 172.4387 L 115.6106 182.1634 L 117.7737 173.3419 L 119.9369 171.6616 L 122.1 176.2824 L 124.2632 184.0327 L 126.4264 171.5776 L 128.5895 172.7118 L 130.7527 176.7024 L 132.9159 182.4574 L 135.079 177.7526 L 137.2422 178.8448 L 139.4053 173.888 L 141.5685 175.9883 L 143.7317 174.098 L 145.8948 179.6219 L 148.058 179.4749 L 150.2211 177.7526 L 152.3843 176.4084 L 154.5475 176.4084 L 156.7106 178.9918 L 158.8738 175.6733 L 161.0369 179.0548 L 163.2001 177.1225 L 165.3633 177.1225 L 167.5264 175.2532 L 169.6896 179.853 L 171.8527 180.7771 L 174.0159 179.895 L 176.1791 176.0723 L 178.3422 175.7783 L 180.5054 174.7701 L 184.8317 176.9545 L 186.9949 178.7188 L 189.158 175.9463 L 191.3212 175.6103 L 193.4843 176.4924 L 195.6475 177.7316 L 197.8107 177.4376 L 199.9738 178.0047 L 202.137 177.8786 L 204.3001 175.7363 L 206.4633 178.5718 L 208.6265 178.1727 L 210.7896 176.3664 L 212.9528 177.3116 L 215.116 176.3034 L 217.2791 177.1225 L 219.4423 176.7024 L 221.6054 176.4084 L 223.7686 176.7024 L 225.9318 176.0933 L 228.0949 177.5426 L 232.4212 177.3746 L 234.5844 176.7024 L 236.7476 176.4924 L 238.9107 176.4924 L 241.0739 176.7024 L 243.237 177.1225 L 245.4002 175.8833 L 247.5634 177.0385 L 249.7265 176.9965 L 251.8897 176.4924 L 254.0528 176.3034 L 256.216 176.8075 L 260.5423 176.8075 L 262.7055 177.2485 L 264.8686 176.0933 L 267.0318 176.8075 L 269.195 176.4924 L 271.3581 176.3244 L 273.5213 176.3244 L 275.6844 176.4924 L 277.8476 176.1354 L 280.0108 176.7024 L 282.1739 177.0385 L 284.3371 176.7024 L 286.5002 176.6604 L 288.6634 176.8075 L 290.8266 176.7024 L 295.1529 177.0175 L 297.3161 176.8075 L 299.4792 177.0385 L 301.6424 176.9545 L 303.8055 177.1225 L 305.9687 176.6604 L 308.1319 177.4586 L 310.295 177.0175 L 312.4582 176.9125 L 314.6213 177.2275 L 316.7845 177.0175 L 318.9477 177.0805 L 321.1108 177.0175 L 327.6003 177.5426 L 329.7635 178.4247 L 331.9266 177.4376 L 334.0898 177.0175 L 336.2529 176.7865 L 340.5793 177.3536 L 342.7424 177.0175 L 344.9056 177.0175 L 347.0687 177.2275 L 351.3951 176.8705 L 353.5582 177.5216 L 355.7214 177.1645 L 357.8845 177.2275 L 360.0477 176.8285 L 362.2109 176.9545 L 364.374 177.4376 L 366.5372 176.7865 L 368.7003 177.4376 L 370.8635 177.1225 L 383.8425 177.0805 L 386.0056 176.7865 L 388.1688 177.9417 L 390.332 177.4376 L 392.4951 177.2275 L 394.6583 177.9417 L 398.9846 177.1225 L 403.3109 176.7865 L 409.8004 177.7526 L 414.1267 179.853 L 416.2899 179.853 L 418.453 184.0537 L 420.6162 183.7386 L 422.7794 181.8483 L 424.9425 177.5426 L 427.1057 175.7783 L 429.2688 175.4422 L 431.432 174.8121 L 433.5952 175.6523 L 435.7583 180.252 L 437.9215 178.3827 L 440.0846 177.858 L 442.2478 177.75 L 444.411 180.9 L 448.7373 189.018 L 450.9004 186.246 L 453.0636 192.528 L 455.2268 187.182 L 457.3899 184.806 L 461.7163 185.148 L 463.8794 186.984 L 466.0426 198 L 468.2057 214.74 L 470.3689 244.098 L 472.5321 237.24 L 474.6952 197.262 L 476.8584 202.14 L 479.0215 276.12 L 481.1847 210.96 L 483.3479 190.764 L 485.511 193.482 L 487.6742 205.146 L 489.8373 221.76 L 492.0005 260.928 L 494.1637 235.962 L 496.3268 242.028 L 498.49 245.61 L 500.6531 218.988 L 502.8163 219.798 L 504.9795 207 L 507.1426 176.4 L 509.3058 69.822 L 511.4689 115.434 L 513.6321 171.684 L 513.6321 171.684" clip-path="url(#p08fd92dc2a)" style="fill: none; stroke: #1f77b4; stroke-width: 1.5; stroke-linecap: square" />
</g>
<g id="line2d_158">
<path d="M 81 185.1039 L 83.1632 181.7433 L 85.3263 178.0137 L 87.4895 178.6768 L 89.6526 180.252 L 91.8158 175.0222 L 93.979 173.4469 L 96.1421 168.6251 L 98.3053 171.5566 L 100.4684 172.2917 L 102.6316 175.5263 L 104.7948 171.8926 L 106.9579 174.6021 L 109.1211 174.4341 L 111.2842 178.0677 L 113.4474 178.5928 L 115.6106 177.7526 L 117.7737 170.7375 L 119.9369 173.0058 L 122.1 169.0572 L 124.2632 179.727 L 126.4264 176.7024 L 128.5895 174.6861 L 130.7527 179.4119 L 132.9159 176.4924 L 135.079 179.895 L 137.2422 175.4422 L 139.4053 176.7024 L 141.5685 178.4247 L 143.7317 175.5263 L 145.8948 175.9883 L 148.058 177.6266 L 150.2211 175.8203 L 152.3843 178.7818 L 154.5475 177.5426 L 156.7106 177.7526 L 158.8738 177.6476 L 161.0369 178.0677 L 163.2001 176.0723 L 165.3633 178.5928 L 167.5264 179.2649 L 169.6896 174.3501 L 171.8527 176.2824 L 174.0159 176.7024 L 176.1791 175.9463 L 178.3422 178.8448 L 180.5054 178.8868 L 182.6685 176.7235 L 184.8317 177.5426 L 186.9949 178.0677 L 189.158 176.6184 L 193.4843 179.2649 L 195.6475 175.8833 L 199.9738 177.6266 L 204.3001 176.7024 L 206.4633 177.5426 L 208.6265 177.9627 L 210.7896 176.9125 L 212.9528 177.2275 L 215.116 176.4924 L 217.2791 176.1354 L 219.4423 176.4924 L 221.6054 178.1097 L 223.7686 177.5426 L 225.9318 177.1225 L 228.0949 177.6476 L 230.2581 177.1225 L 232.4212 177.1225 L 234.5844 176.4924 L 238.9107 175.7783 L 241.0739 176.0303 L 243.237 177.1225 L 247.5634 176.7024 L 249.7265 176.0933 L 251.8897 177.2065 L 258.3792 176.0933 L 262.7055 176.9965 L 264.8686 176.7024 L 267.0318 176.1984 L 269.195 176.5974 L 271.3581 176.3664 L 273.5213 176.4504 L 275.6844 176.7024 L 277.8476 177.4166 L 280.0108 176.8075 L 284.3371 176.4504 L 292.9897 176.7024 L 295.1529 176.8075 L 297.3161 176.5974 L 299.4792 177.1225 L 301.6424 176.5974 L 303.8055 176.5974 L 305.9687 177.0175 L 310.295 176.9545 L 312.4582 177.1015 L 314.6213 177.4586 L 316.7845 177.1225 L 318.9477 177.2275 L 321.1108 177.1225 L 323.274 177.1645 L 325.4371 177.0385 L 327.6003 177.1645 L 329.7635 177.9417 L 331.9266 177.4376 L 336.2529 177.0175 L 340.5793 176.9545 L 342.7424 177.1645 L 344.9056 177.2485 L 349.2319 177.0175 L 351.3951 177.4376 L 353.5582 177.0805 L 355.7214 177.1225 L 357.8845 177.3326 L 360.0477 177.1225 L 362.2109 177.7316 L 364.374 177.4376 L 366.5372 176.9335 L 368.7003 177.5006 L 370.8635 177.5426 L 377.353 177.3326 L 379.5162 178.0047 L 383.8425 177.9627 L 386.0056 177.7526 L 388.1688 177.8576 L 390.332 177.5426 L 392.4951 177.4376 L 396.8214 178.0047 L 401.1478 178.2777 L 403.3109 178.1307 L 405.4741 177.7946 L 409.8004 178.4247 L 411.9636 179.748 L 414.1267 180.5881 L 416.2899 180.9032 L 418.453 184.9778 L 420.6162 182.6884 L 422.7794 182.7935 L 424.9425 178.8028 L 427.1057 177.7526 L 429.2688 177.0175 L 431.432 175.7363 L 433.5952 177.3326 L 435.7583 182.8775 L 437.9215 181.9533 L 440.0846 180.441 L 442.2478 181.224 L 444.411 183.726 L 446.5741 186.57 L 448.7373 187.686 L 450.9004 186.876 L 453.0636 196.02 L 455.2268 189.99 L 457.3899 190.656 L 459.5531 190.71 L 461.7163 191.538 L 463.8794 194.58 L 466.0426 205.362 L 468.2057 223.02 L 470.3689 264.042 L 474.6952 201.6 L 476.8584 210.006 L 479.0215 274.5 L 481.1847 228.96 L 483.3479 198.234 L 485.511 203.886 L 487.6742 221.04 L 489.8373 248.4 L 492.0005 286.218 L 494.1637 262.224 L 496.3268 259.398 L 498.49 268.326 L 500.6531 231.642 L 502.8163 232.668 L 504.9795 213.57 L 507.1426 163.332 L 509.3058 90.72 L 511.4689 160.434 L 513.6321 184.212 L 513.6321 184.212" clip-path="url(#p08fd92dc2a)" style="fill: none; stroke: #ff7f0e; stroke-width: 1.5; stroke-linecap: square" />
</g>
<g id="line2d_159">
<path d="M 81 182.8985 L 83.1632 184.8728 L 85.3263 181.6383 L 87.4895 180.6931 L 89.6526 178.8028 L 91.8158 169.1652 L 93.979 172.9218 L 96.1421 178.4667 L 98.3053 176.9125 L 100.4684 175.5683 L 102.6316 178.3827 L 104.7948 179.5589 L 106.9579 174.8961 L 109.1211 178.5928 L 111.2842 182.7095 L 113.4474 179.1809 L 115.6106 182.8775 L 117.7737 175.2952 L 119.9369 178.5928 L 122.1 180.6151 L 124.2632 175.8833 L 126.4264 175.7363 L 128.5895 177.7526 L 130.7527 178.0467 L 132.9159 174.7281 L 135.079 178.0467 L 137.2422 173.6359 L 139.4053 178.4667 L 141.5685 176.3304 L 143.7317 176.2044 L 145.8948 178.6768 L 148.058 176.3664 L 150.2211 177.5426 L 152.3843 178.3647 L 154.5475 177.4376 L 156.7106 176.2584 L 158.8738 183.6756 L 161.0369 173.993 L 163.2001 174.9172 L 165.3633 175.9673 L 167.5264 175.7783 L 169.6896 178.3617 L 171.8527 176.5134 L 174.0159 177.2275 L 176.1791 177.7946 L 182.6685 178.3827 L 184.8317 179.0968 L 186.9949 178.2777 L 189.158 177.9627 L 191.3212 177.1225 L 193.4843 176.8705 L 195.6475 177.3326 L 197.8107 177.0805 L 199.9738 176.9545 L 202.137 176.6184 L 204.3001 177.2275 L 206.4633 176.1984 L 208.6265 178.1517 L 210.7896 176.7235 L 212.9528 176.9125 L 215.116 176.5134 L 217.2791 178.1517 L 219.4423 177.2275 L 221.6054 176.8075 L 223.7686 176.7024 L 225.9318 176.1984 L 228.0949 177.8366 L 230.2581 176.8075 L 232.4212 176.7024 L 234.5844 176.3034 L 236.7476 176.8075 L 238.9107 176.6604 L 243.237 177.4166 L 245.4002 176.5344 L 249.7265 176.8075 L 251.8897 176.1354 L 254.0528 176.9965 L 256.216 176.7445 L 260.5423 176.7655 L 262.7055 176.4084 L 267.0318 176.8285 L 269.195 176.1984 L 271.3581 176.8285 L 273.5213 176.5974 L 275.6844 176.0933 L 277.8476 176.5974 L 280.0108 176.3034 L 282.1739 176.8915 L 284.3371 176.5344 L 288.6634 176.3874 L 290.8266 176.8075 L 292.9897 176.7655 L 295.1529 176.4084 L 299.4792 177.4166 L 301.6424 176.6184 L 303.8055 176.8705 L 310.295 176.6604 L 312.4582 176.4504 L 314.6213 177.1645 L 316.7845 176.9125 L 318.9477 177.0175 L 321.1108 176.6604 L 325.4371 177.3956 L 327.6003 177.2905 L 329.7635 177.6686 L 331.9266 177.2905 L 338.4161 176.9965 L 340.5793 176.9965 L 342.7424 176.7865 L 344.9056 176.8495 L 347.0687 177.3116 L 349.2319 177.0175 L 351.3951 177.5216 L 353.5582 177.1645 L 355.7214 177.0805 L 357.8845 177.2905 L 362.2109 177.1645 L 364.374 177.5006 L 368.7003 177.4376 L 370.8635 176.7865 L 375.1898 177.2905 L 379.5162 177.0805 L 381.6793 177.3956 L 383.8425 177.2275 L 386.0056 177.6266 L 388.1688 176.9545 L 390.332 176.9125 L 392.4951 175.8203 L 396.8214 177.3116 L 398.9846 177.0175 L 401.1478 176.3034 L 403.3109 177.1015 L 405.4741 176.2824 L 407.6372 176.0303 L 409.8004 177.0175 L 411.9636 177.1645 L 414.1267 178.9708 L 416.2899 178.8028 L 418.453 182.1424 L 420.6162 181.2182 L 422.7794 180.6931 L 424.9425 176.5974 L 427.1057 175.8623 L 431.432 173.93 L 433.5952 174.3921 L 435.7583 177.8366 L 437.9215 176.5974 L 440.0846 176.904 L 442.2478 175.194 L 444.411 177.444 L 446.5741 180.594 L 448.7373 184.086 L 450.9004 182.592 L 453.0636 190.674 L 455.2268 183.582 L 457.3899 180.9 L 459.5531 178.614 L 461.7163 179.172 L 463.8794 180.432 L 466.0426 190.656 L 468.2057 206.622 L 470.3689 237.6 L 472.5321 224.388 L 474.6952 189.9 L 476.8584 193.176 L 479.0215 259.722 L 481.1847 216.936 L 483.3479 187.164 L 485.511 187.146 L 487.6742 199.89 L 489.8373 214.614 L 492.0005 244.026 L 494.1637 223.038 L 496.3268 230.58 L 498.49 233.226 L 500.6531 212.94 L 502.8163 212.238 L 504.9795 205.362 L 507.1426 181.566 L 509.3058 119.052 L 511.4689 72.324 L 513.6321 145.926 L 513.6321 145.926" clip-path="url(#p08fd92dc2a)" style="fill: none; stroke: #2ca02c; stroke-width: 1.5; stroke-linecap: square" />
</g>
<g id="patch_3">
<path d="M 81 320.4 L 81 43.2" style="fill: none; stroke: #000000; stroke-width: 0.8; stroke-linejoin: miter; stroke-linecap: square" />
</g>
<g id="patch_4">
<path d="M 583.2 320.4 L 583.2 43.2" style="fill: none; stroke: #000000; stroke-width: 0.8; stroke-linejoin: miter; stroke-linecap: square" />
</g>
<g id="patch_5">
<path d="M 81 320.4 L 583.2 320.4" style="fill: none; stroke: #000000; stroke-width: 0.8; stroke-linejoin: miter; stroke-linecap: square" />
</g>
<g id="patch_6">
<path d="M 81 43.2 L 583.2 43.2" style="fill: none; stroke: #000000; stroke-width: 0.8; stroke-linejoin: miter; stroke-linecap: square" />
</g>
<g id="text_16">
<text style="font-size: 12px; font-family: 'DejaVu Sans', sans-serif; text-anchor: middle" x="332.1" y="37.2" transform="translate(332.1 37.2) scale(1 1.025) translate(-332.1 -37.2)">Magnitude response</text>
</g>
<g id="legend_1">
<g id="patch_7">
<path d="M 88 95.2344 L 195.6281 95.2344 Q 197.6281 95.2344 197.6281 93.2344 L 197.6281 50.2 Q 197.6281 48.2 195.6281 48.2 L 88 48.2 Q 86 48.2 86 50.2 L 86 93.2344 Q 86 95.2344 88 95.2344 z" style="fill: #ffffff; opacity: 0.8; stroke: #cccccc; stroke-linejoin: miter" />
</g>
<g id="line2d_160">
<path d="M 90 56.34 L 100.08 56.34 L 109.98 56.34" style="fill: none; stroke: #1f77b4; stroke-width: 1.5; stroke-linecap: square" />
</g>
<g id="text_17">
<text style="font-size: 10px; font-family: 'DejaVu Sans', sans-serif; text-anchor: start" x="118.108" y="59.7984">BK 1000 minus</text>
</g>
<g id="line2d_161">
<path d="M 90 70.92 L 100.08 70.92 L 109.98 70.92" style="fill: none; stroke: #ff7f0e; stroke-width: 1.5; stroke-linecap: square" />
</g>
<g id="text_18">
<text style="font-size: 10px; font-family: 'DejaVu Sans', sans-serif; text-anchor: start" x="118.108" y="74.4766">BK 1000 plus</text>
</g>
<g id="line2d_162">
<path d="M 90 85.68 L 100.08 85.68 L 109.98 85.68" style="fill: none; stroke: #2ca02c; stroke-width: 1.5; stroke-linecap: square" />
</g>
<g id="text_19">
<text style="font-size: 10px; font-family: 'DejaVu Sans', sans-serif; text-anchor: start" x="118.108" y="89.3347">BK 1000 PE</text>
</g>
</g>
</g>
</g>
<defs>
<clipPath id="p08fd92dc2a">
<rect x="81" y="43.2" width="502.2" height="277.2" />
</clipPath>
</defs>
</svg>
</body>
</html>
